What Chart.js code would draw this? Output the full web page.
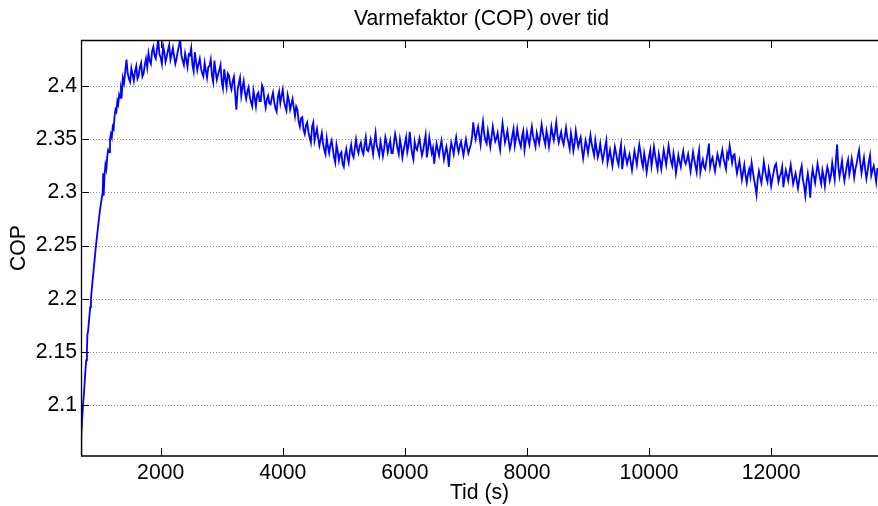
<!DOCTYPE html>
<html><head><meta charset="utf-8">
<script src="https://cdn.jsdelivr.net/npm/chart.js@4.4.1/dist/chart.umd.min.js"></script>
<style>html,body{margin:0;padding:0;background:#fff;overflow:hidden}</style>
</head><body>
<canvas id="c" width="878" height="506"></canvas>
<script>
const chartTitle = 'Varmefaktor (COP) over tid';
const xTitle = 'Tid (s)';
const yTitle = 'COP';
const xTicks = [2000, 4000, 6000, 8000, 10000, 12000];
const yTicks = [2.1, 2.15, 2.2, 2.25, 2.3, 2.35, 2.4];
const xRange = [695, 13750];
const yRange = [2.052, 2.4435];

const time = [
  695,700,712,728,745,762,780,792,800,812,830,845,858,880,900,920,940,965,990,1010,1030,1050,1058,1066,1080,1095,1110,1125,1140,1155,1170,1185,1200,1215,1230,1245,1260,1275,1290,1305,1320,1335,1350,1365,1380,
  1400,1420,1440,1460,1480,1500,1520,1540,1560,1580,1600,1620,1640,1660,1680,1700,1720,1740,1760,1780,
  1800,1820,1840,1860,1880,1900,1920,1940,1960,1980,2000,2020,2040,2060,2080,2100,2120,2140,2160,2180,
  2200,2220,2240,2260,2280,2300,2320,2340,2360,2380,2400,2420,2440,2460,2480,2500,2520,2540,2560,2580,
  2600,2620,2640,2660,2680,2700,2720,2740,2760,2780,2800,2820,2840,2860,2880,2900,2920,2940,2960,2980,
  3000,3020,3040,3060,3080,3100,3120,3140,3160,3180,3200,3220,3240,3260,3280,3300,3320,3340,3360,3380,
  3400,3420,3440,3460,3480,3500,3520,3540,3560,3580,3600,3620,3640,3660,3680,3700,3720,3740,3760,3780,
  3800,3820,3840,3860,3880,3900,3920,3940,3960,3980,4000,4020,4040,4060,4080,4100,4120,4140,4160,4180,
  4200,4220,4240,4260,4280,4300,4320,4340,4360,4380,4400,4420,4440,4460,4480,4500,4520,4540,4560,4580,
  4600,4620,4640,4660,4680,4700,4720,4740,4760,4780,4800,4820,4840,4860,4880,4900,4920,4940,4960,4980,
  5000,5020,5040,5060,5080,5100,5120,5140,5160,5180,5200,5220,5240,5260,5280,5300,5320,5340,5360,5380,
  5400,5420,5440,5460,5480,5500,5520,5540,5560,5580,5600,5620,5640,5660,5680,5700,5720,5740,5760,5780,
  5800,5820,5840,5860,5880,5900,5920,5940,5960,5980,6000,6020,6040,6060,6080,6100,6120,6140,6160,6180,
  6200,6220,6240,6260,6280,6300,6320,6340,6360,6380,6400,6420,6440,6460,6480,6500,6520,6540,6560,6580,
  6600,6620,6640,6660,6680,6700,6720,6740,6760,6780,6800,6820,6840,6860,6880,6900,6920,6940,6960,6980,
  7000,7020,7040,7060,7080,7100,7120,7140,7160,7180,7200,7220,7240,7260,7280,7300,7320,7340,7360,7380,
  7400,7420,7440,7460,7480,7500,7520,7540,7560,7580,7600,7620,7640,7660,7680,7700,7720,7740,7760,7780,
  7800,7820,7840,7860,7880,7900,7920,7940,7960,7980,8000,8020,8040,8060,8080,8100,8120,8140,8160,8180,
  8200,8220,8240,8260,8280,8300,8320,8340,8360,8380,8400,8420,8440,8460,8480,8500,8520,8540,8560,8580,
  8600,8620,8640,8660,8680,8700,8720,8740,8760,8780,8800,8820,8840,8860,8880,8900,8920,8940,8960,8980,
  9000,9020,9040,9060,9080,9100,9120,9140,9160,9180,9200,9220,9240,9260,9280,9300,9320,9340,9360,9380,
  9400,9420,9440,9460,9480,9500,9520,9540,9560,9580,9600,9620,9640,9660,9680,9700,9720,9740,9760,9780,
  9800,9820,9840,9860,9880,9900,9920,9940,9960,9980,10000,10020,10040,10060,10080,10100,10120,10140,10160,10180,
  10200,10220,10240,10260,10280,10300,10320,10340,10360,10380,10400,10420,10440,10460,10480,10500,10520,10540,10560,10580,
  10600,10620,10640,10660,10680,10700,10720,10740,10760,10780,10800,10820,10840,10860,10880,10900,10920,10940,10960,10980,
  11000,11020,11040,11060,11080,11100,11120,11140,11160,11180,11200,11220,11240,11260,11280,11300,11320,11340,11360,11380,
  11400,11420,11440,11460,11480,11500,11520,11540,11560,11580,11600,11620,11640,11660,11680,11700,11720,11740,11760,11780,
  11800,11820,11840,11860,11880,11900,11920,11940,11960,11980,12000,12020,12040,12060,12080,12100,12120,12140,12160,12180,
  12200,12220,12240,12260,12280,12300,12320,12340,12360,12380,12400,12420,12440,12460,12480,12500,12520,12540,12560,12580,
  12600,12620,12640,12660,12680,12700,12720,12740,12760,12780,12800,12820,12840,12860,12880,12900,12920,12940,12960,12980,
  13000,13020,13040,13060,13080,13100,13120,13140,13160,13180,13200,13220,13240,13260,13280,13300,13320,13340,13360,13380,
  13400,13420,13440,13460,13480,13500,13520,13540,13560,13580,13600,13620,13640,13660,13680,13700,13720,13740
];

const cop = [
  2.052,2.070,2.085,2.100,2.112,2.128,2.142,2.152,2.166,2.170,2.182,2.192,2.200,2.214,2.226,2.238,2.250,2.263,2.276,2.285,2.293,2.300,2.318,2.297,2.316,2.326,2.322,2.334,2.340,2.338,2.350,2.355,2.352,2.362,2.360,2.372,2.378,2.376,2.386,2.383,2.392,2.389,2.398,2.394,2.408,
  2.403,2.414,2.425,2.412,2.407,2.404,2.417,2.411,2.405,2.414,2.419,2.407,2.410,2.418,2.422,2.409,2.412,2.420,2.426,2.418,
  2.431,2.424,2.421,2.433,2.437,2.429,2.426,2.435,2.444,2.430,2.427,2.421,2.438,2.432,2.423,2.428,2.434,2.439,2.425,2.430,
  2.436,2.428,2.421,2.426,2.433,2.438,2.444,2.429,2.424,2.420,2.431,2.425,2.418,2.430,2.429,2.436,2.420,2.414,2.432,2.423,
  2.415,2.421,2.426,2.417,2.412,2.409,2.422,2.415,2.408,2.418,2.419,2.425,2.410,2.404,2.424,2.414,2.406,2.411,2.415,2.420,
  2.404,2.398,2.416,2.407,2.399,2.412,2.410,2.401,2.397,2.405,2.409,2.393,2.378,2.396,2.403,2.408,2.391,2.399,2.405,2.394,
  2.388,2.395,2.399,2.390,2.385,2.381,2.396,2.389,2.381,2.392,2.394,2.386,2.386,2.401,2.398,2.387,2.380,2.388,2.391,2.384,
  2.383,2.389,2.394,2.385,2.379,2.376,2.390,2.395,2.384,2.391,2.397,2.386,2.381,2.377,2.392,2.387,2.378,2.383,2.388,2.380,
  2.372,2.381,2.378,2.367,2.362,2.370,2.371,2.359,2.355,2.363,2.366,2.357,2.352,2.347,2.362,2.366,2.349,2.355,2.360,2.351,
  2.344,2.350,2.356,2.346,2.340,2.336,2.351,2.343,2.337,2.345,2.349,2.341,2.333,2.328,2.345,2.339,2.330,2.336,2.338,2.327,
  2.324,2.335,2.341,2.333,2.328,2.339,2.345,2.336,2.333,2.342,2.350,2.341,2.337,2.344,2.347,2.339,2.336,2.345,2.352,2.340,
  2.339,2.344,2.350,2.343,2.336,2.347,2.356,2.344,2.340,2.335,2.348,2.342,2.334,2.341,2.352,2.347,2.338,2.344,2.349,2.337,
  2.337,2.346,2.355,2.349,2.341,2.336,2.350,2.343,2.333,2.340,2.346,2.352,2.338,2.344,2.357,2.345,2.336,2.331,2.348,2.342,
  2.340,2.346,2.351,2.342,2.335,2.340,2.347,2.354,2.333,2.341,2.352,2.344,2.337,2.342,2.327,2.338,2.346,2.340,2.335,2.343,
  2.349,2.340,2.331,2.337,2.343,2.336,2.324,2.339,2.347,2.342,2.336,2.345,2.352,2.343,2.338,2.344,2.348,2.341,2.335,2.343,
  2.350,2.343,2.337,2.341,2.345,2.352,2.366,2.356,2.350,2.357,2.362,2.353,2.345,2.358,2.367,2.355,2.349,2.346,2.358,2.351,
  2.343,2.352,2.362,2.355,2.348,2.351,2.356,2.347,2.340,2.354,2.365,2.356,2.347,2.352,2.358,2.349,2.341,2.346,2.354,2.360,
  2.344,2.351,2.360,2.352,2.347,2.343,2.353,2.358,2.340,2.348,2.357,2.350,2.345,2.355,2.362,2.353,2.348,2.343,2.356,2.351,
  2.346,2.355,2.364,2.356,2.350,2.345,2.358,2.352,2.343,2.351,2.362,2.355,2.349,2.357,2.366,2.354,2.347,2.352,2.357,2.349,
  2.345,2.353,2.361,2.352,2.347,2.341,2.356,2.349,2.339,2.346,2.358,2.350,2.343,2.348,2.352,2.341,2.332,2.340,2.349,2.344,
  2.337,2.345,2.354,2.346,2.340,2.335,2.349,2.341,2.333,2.338,2.346,2.337,2.330,2.336,2.343,2.349,2.328,2.334,2.340,2.332,
  2.325,2.334,2.343,2.337,2.330,2.326,2.338,2.345,2.322,2.331,2.340,2.333,2.327,2.332,2.336,2.328,2.321,2.330,2.339,2.333,
  2.326,2.336,2.345,2.338,2.329,2.324,2.337,2.330,2.319,2.327,2.334,2.340,2.325,2.333,2.343,2.335,2.328,2.322,2.336,2.330,
  2.322,2.331,2.340,2.333,2.326,2.335,2.344,2.336,2.329,2.325,2.337,2.330,2.318,2.326,2.335,2.329,2.324,2.333,2.339,2.330,
  2.327,2.331,2.336,2.328,2.320,2.329,2.338,2.331,2.325,2.319,2.333,2.340,2.319,2.326,2.331,2.324,2.322,2.330,2.337,2.346,
  2.324,2.330,2.333,2.326,2.320,2.328,2.336,2.331,2.326,2.334,2.340,2.332,2.327,2.322,2.337,2.333,2.344,2.336,2.328,2.335,
  2.336,2.326,2.318,2.324,2.330,2.321,2.312,2.319,2.326,2.316,2.309,2.317,2.322,2.315,2.328,2.320,2.312,2.306,2.298,2.313,
  2.320,2.314,2.309,2.318,2.329,2.321,2.314,2.310,2.322,2.316,2.306,2.313,2.319,2.325,2.327,2.318,2.310,2.315,2.318,2.324,
  2.305,2.314,2.321,2.316,2.311,2.319,2.326,2.317,2.308,2.313,2.318,2.311,2.304,2.312,2.320,2.325,2.312,2.306,2.297,2.310,
  2.318,2.309,2.295,2.313,2.322,2.315,2.309,2.318,2.327,2.320,2.313,2.308,2.321,2.315,2.306,2.317,2.324,2.319,2.311,2.316,
  2.328,2.320,2.312,2.330,2.345,2.324,2.315,2.322,2.330,2.319,2.311,2.318,2.326,2.331,2.317,2.323,2.332,2.325,2.314,2.322,
  2.327,2.334,2.340,2.328,2.318,2.326,2.333,2.322,2.313,2.320,2.329,2.335,2.316,2.321,2.325,2.318,2.310,2.323
];

const FONT = 'Liberation Sans, Arial, Helvetica, sans-serif';
const FS = 21.2;

const matlabAxes = {
  id: 'matlabAxes',
  beforeDatasetsDraw(chart) {
    const {ctx, chartArea: a, scales: {y}} = chart;
    ctx.save();
    ctx.strokeStyle = '#8c8c8c';
    ctx.lineWidth = 1;
    ctx.setLineDash([1, 2]);
    yTicks.forEach(v => {
      const py = Math.round(y.getPixelForValue(v)) + 0.5;
      ctx.beginPath(); ctx.moveTo(a.left, py); ctx.lineTo(a.right, py); ctx.stroke();
    });
    ctx.restore();
  },
  afterDatasetsDraw(chart) {
    const {ctx, chartArea: a, scales: {x, y}} = chart;
    ctx.save();
    ctx.strokeStyle = '#000';
    ctx.lineWidth = 1.3;
    ctx.beginPath();
    ctx.moveTo(a.right + 2, a.top + 0.5);
    ctx.lineTo(a.left + 0.5, a.top + 0.5);
    ctx.lineTo(a.left + 0.5, a.bottom);
    ctx.lineTo(a.right + 2, a.bottom);
    ctx.stroke();
    ctx.lineWidth = 1;
    const tl = 8;
    xTicks.forEach(v => {
      const px = Math.round(x.getPixelForValue(v)) + 0.5;
      ctx.beginPath(); ctx.moveTo(px, a.bottom); ctx.lineTo(px, a.bottom - tl); ctx.stroke();
      ctx.beginPath(); ctx.moveTo(px, a.top); ctx.lineTo(px, a.top + tl); ctx.stroke();
    });
    yTicks.forEach(v => {
      const py = Math.round(y.getPixelForValue(v)) + 0.5;
      ctx.beginPath(); ctx.moveTo(a.left, py); ctx.lineTo(a.left + tl, py); ctx.stroke();
    });
    ctx.fillStyle = '#000';
    ctx.font = FS + 'px ' + FONT;
    ctx.textAlign = 'center';
    ctx.textBaseline = 'alphabetic';
    ctx.fillText(chartTitle, 481.5, 24.5);
    ctx.restore();
  }
};

new Chart(document.getElementById('c'), {
  type: 'line',
  data: {
    datasets: [{
      data: time.map((t, i) => ({x: t, y: cop[i]})),
      borderColor: '#0000ff',
      borderWidth: 1.8,
      pointRadius: 0,
      fill: false,
      tension: 0
    }]
  },
  options: {
    responsive: false,
    animation: false,
    events: [],
    layout: {padding: {top: 40, right: 0, left: 0, bottom: 0}},
    plugins: {legend: {display: false}, title: {display: false}, tooltip: {enabled: false}},
    scales: {
      x: {
        type: 'linear', min: xRange[0], max: xRange[1],
        grid: {display: false, drawTicks: false}, border: {display: false},
        afterBuildTicks: s => { s.ticks = xTicks.map(v => ({value: v})); },
        afterFit: s => { s.height = 50; s.paddingLeft = 0; s.paddingRight = 0; },
        ticks: {color: '#000', font: {family: FONT, size: FS}, padding: 4, maxRotation: 0, autoSkip: false, callback: v => String(v)},
        title: {display: true, text: xTitle, color: '#000', font: {family: FONT, size: FS}, padding: {top: 0, bottom: 0}}
      },
      y: {
        type: 'linear', min: yRange[0], max: yRange[1],
        grid: {display: false, drawTicks: false}, border: {display: false},
        afterBuildTicks: s => { s.ticks = yTicks.map(v => ({value: v})); },
        afterFit: s => { s.width = 81; s.paddingTop = 0; s.paddingBottom = 0; },
        ticks: {color: '#000', font: {family: FONT, size: FS}, padding: 4, autoSkip: false, callback: v => String(+v.toFixed(2))},
        title: {display: true, text: yTitle, color: '#000', font: {family: FONT, size: FS}, padding: {top: 6.6, bottom: 0}}
      }
    }
  },
  plugins: [matlabAxes]
});
</script>
</body></html>
